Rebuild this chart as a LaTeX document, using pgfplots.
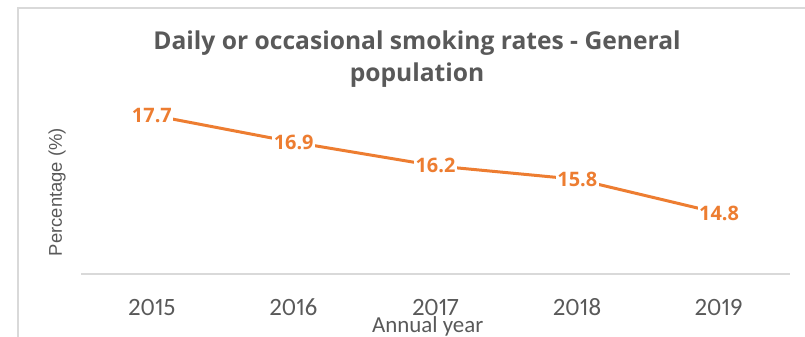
\documentclass[border=0pt]{standalone}
\usepackage{fontspec}
\setmainfont{Open Sans}[Numbers=Lining]
\newfontfamily\carlito{Carlito}[Numbers={Lining,Proportional}]
\newfontfamily\libsans{Liberation Sans}
\usepackage{pgfplots}
\pgfplotsset{compat=1.18}
\definecolor{txtgray}{HTML}{595959}
\definecolor{linegray}{HTML}{D9D9D9}
\definecolor{xlorange}{HTML}{ED7D31}
\begin{document}
\begin{tikzpicture}
\path[use as bounding box] (-81bp,-63bp) rectangle (724bp,274bp);
\draw[linegray, line width=1.5bp] (-63bp,-70bp) -- (-63bp,266bp) -- (730bp,266bp);
\begin{axis}[
  at={(0,0)}, anchor=south west,
  scale only axis, width=709bp, height=169bp,
  xmin=-0.5, xmax=4.5, ymin=13, ymax=18,
  clip=false,
  axis x line*=bottom, axis y line=none,
  x axis line style={linegray, line width=1.3bp},
  xtick={0,1,2,3,4},
  xticklabels={2015,2016,2017,2018,2019},
  major tick length=0pt,
  ytick=\empty,
  xticklabel style={font=\carlito\fontsize{25}{30}\selectfont, text=txtgray, anchor=north, text height=17bp, text depth=0pt, inner sep=0pt, yshift=-24bp},
  xlabel={Annual year},
  xlabel style={at={(axis description cs:0.489,0)}, anchor=base, inner sep=0pt, yshift=-58bp, font=\carlito\fontsize{23}{28}\selectfont, text=txtgray},
  title={Daily or occasional smoking rates - General\\population},
  title style={at={(axis description cs:0.474,1)}, anchor=north, yshift=68bp, inner sep=0pt, align=center, font=\bfseries\fontsize{24.7}{32}\selectfont, text=txtgray},
  nodes near coords={\pgfmathprintnumber[assume math mode=true,fixed,precision=1,fixed zerofill]{\pgfplotspointmeta}},
  every node near coord/.append style={anchor=center, fill=white, inner sep=1.5bp, font=\bfseries\fontsize{20}{22}\selectfont, text=xlorange},
]
\addplot[xlorange, line width=3bp, mark=none] coordinates {
  (0,17.7) (1,16.9) (2,16.2) (3,15.8) (4,14.8)
};
\node[rotate=90, anchor=center, inner sep=0pt, font=\libsans\fontsize{18.5}{20}\selectfont, text=txtgray] at ([xshift=-24bp]rel axis cs:0,0.485) {Percentage (\%)};
\end{axis}
\end{tikzpicture}
\end{document}
